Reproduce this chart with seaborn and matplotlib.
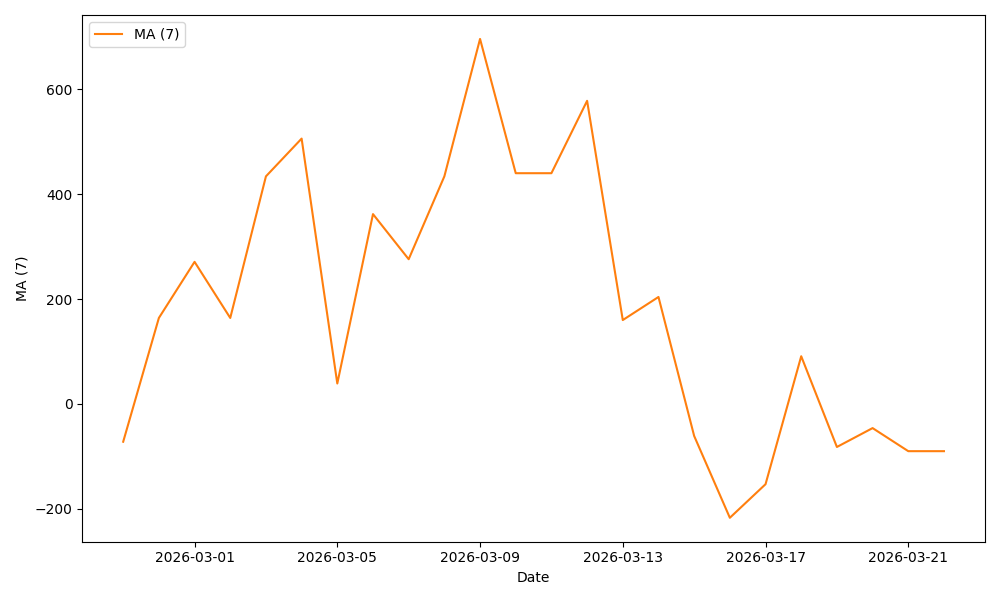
import pandas as pd
import matplotlib
matplotlib.use("Agg")
import matplotlib.pyplot as plt
import seaborn as sns

# 7-day moving average
dates = pd.date_range("2026-02-27", "2026-03-22", freq="D")
ma7 = [-72, 164, 271, 164, 434, 506, 39, 362, 276, 434, 696, 440,
       440, 578, 160, 204, -61, -217, -153, 91, -82, -46, -90, -90]

df = pd.DataFrame({"Date": dates, "MA (7)": ma7})

fig, ax = plt.subplots(figsize=(10, 6))
sns.lineplot(data=df, x="Date", y="MA (7)", color="#ff7f0e", label="MA (7)", ax=ax)

ax.set_xlabel("Date")
ax.set_ylabel("MA (7)")
ax.legend(loc="upper left")

plt.tight_layout()
plt.savefig("out.png", dpi=100)
